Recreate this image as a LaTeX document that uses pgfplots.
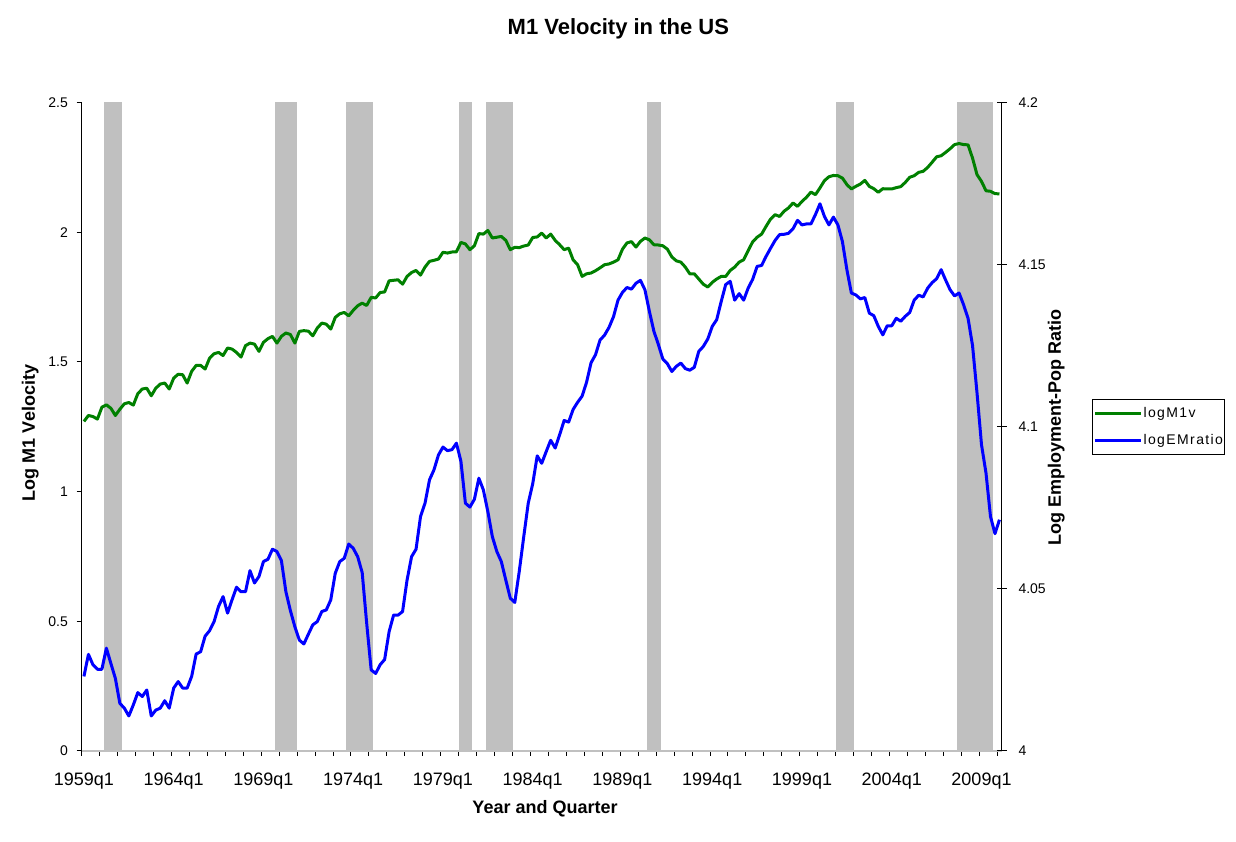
\documentclass[border=0pt]{standalone}
\usepackage{pgfplots}
\pgfplotsset{compat=1.18}
\usepackage{fontspec}
\setmainfont{Liberation Sans}
\newfontfamily\legfont[LetterSpace=10]{Liberation Sans}
\definecolor{recgray}{HTML}{C0C0C0}
\definecolor{mgreen}{HTML}{008000}
\definecolor{mblue}{HTML}{0000FF}
\begin{document}
\begin{tikzpicture}
\path[use as bounding box] (0,0) rectangle (1236pt,842pt);
\begin{axis}[
  at={(81.7pt,91pt)}, anchor=south west,
  width=920pt, height=648.7pt, scale only axis,
  xmin=-0.5, xmax=204.5, ymin=0, ymax=2.5,
  axis x line*=bottom, axis y line*=left,
  y axis line style={line width=1pt, black},
  x axis line style={line width=2.5pt, recgray},
  tick align=outside, major tick length=5pt, minor tick length=5pt,
  every tick/.style={black, line width=1pt},
  every major x tick/.append style={draw=none},
  ytick={0,0.5,1,1.5,2,2.5}, yticklabels={0,0.5,1,1.5,2,2.5},
  xtick={0,20,40,60,80,100,120,140,160,180,200},
  xticklabels={1959q1,1964q1,1969q1,1974q1,1979q1,1984q1,1989q1,1994q1,1999q1,2004q1,2009q1},
  minor xtick={-0.5,3.5,...,203.5},
  /pgf/number format/assume math mode=true,
  yticklabel style={font=\fontsize{14}{14}\selectfont, inner sep=0pt, text height=10pt, text depth=0pt, anchor=east, xshift=-8.7pt},
  xticklabel style={font=\fontsize{18}{18}\selectfont, inner sep=0pt, text height=13pt, text depth=0pt, anchor=north, yshift=-16.3pt},
  title={M1 Velocity in the US},
  title style={font=\fontsize{22}{22}\selectfont\bfseries, at={(axis description cs:0.5833,1.1079)}, anchor=center, inner sep=0pt, text height=15.8pt, text depth=0pt},
  ylabel={Log M1 Velocity},
  ylabel style={font=\fontsize{18}{18}\selectfont\bfseries, at={(axis description cs:-0.0578,0.4902)}, anchor=center, inner sep=0pt, text height=12.9pt, text depth=0pt},
  xlabel={Year and Quarter},
  xlabel style={font=\fontsize{18}{18}\selectfont\bfseries, at={(axis description cs:0.5036,-0.0863)}, anchor=center, inner sep=0pt, text height=12.9pt, text depth=0pt},
]
\addplot[fill=recgray, draw=none, forget plot] coordinates {(4.5,2.5) (8.5,2.5)} \closedcycle;
\addplot[fill=recgray, draw=none, forget plot] coordinates {(42.5,2.5) (47.5,2.5)} \closedcycle;
\addplot[fill=recgray, draw=none, forget plot] coordinates {(58.5,2.5) (64.5,2.5)} \closedcycle;
\addplot[fill=recgray, draw=none, forget plot] coordinates {(83.5,2.5) (86.5,2.5)} \closedcycle;
\addplot[fill=recgray, draw=none, forget plot] coordinates {(89.5,2.5) (95.5,2.5)} \closedcycle;
\addplot[fill=recgray, draw=none, forget plot] coordinates {(125.5,2.5) (128.5,2.5)} \closedcycle;
\addplot[fill=recgray, draw=none, forget plot] coordinates {(167.5,2.5) (171.5,2.5)} \closedcycle;
\addplot[fill=recgray, draw=none, forget plot] coordinates {(194.5,2.5) (202.5,2.5)} \closedcycle;
\addplot[mgreen, line width=3pt, line join=round] coordinates {
(0,1.270)(1,1.293)(2,1.289)(3,1.279)(4,1.325)(5,1.334)(6,1.321)(7,1.293)(8,1.317)(9,1.338)
(10,1.343)(11,1.333)(12,1.377)(13,1.395)(14,1.398)(15,1.369)(16,1.398)(17,1.414)(18,1.418)(19,1.395)
(20,1.437)(21,1.452)(22,1.450)(23,1.418)(24,1.463)(25,1.486)(26,1.486)(27,1.472)(28,1.514)(29,1.531)
(30,1.536)(31,1.524)(32,1.553)(33,1.549)(34,1.536)(35,1.518)(36,1.562)(37,1.572)(38,1.568)(39,1.540)
(40,1.575)(41,1.589)(42,1.598)(43,1.572)(44,1.598)(45,1.611)(46,1.605)(47,1.572)(48,1.617)(49,1.620)
(50,1.618)(51,1.600)(52,1.630)(53,1.649)(54,1.645)(55,1.626)(56,1.671)(57,1.685)(58,1.690)(59,1.677)
(60,1.698)(61,1.716)(62,1.726)(63,1.717)(64,1.748)(65,1.746)(66,1.767)(67,1.769)(68,1.812)(69,1.814)
(70,1.816)(71,1.799)(72,1.829)(73,1.844)(74,1.852)(75,1.834)(76,1.865)(77,1.887)(78,1.891)(79,1.896)
(80,1.922)(81,1.919)(82,1.923)(83,1.924)(84,1.960)(85,1.954)(86,1.932)(87,1.947)(88,1.994)(89,1.992)
(90,2.006)(91,1.977)(92,1.980)(93,1.983)(94,1.968)(95,1.932)(96,1.941)(97,1.940)(98,1.946)(99,1.950)
(100,1.979)(101,1.981)(102,1.996)(103,1.977)(104,1.992)(105,1.968)(106,1.951)(107,1.932)(108,1.938)(109,1.893)
(110,1.874)(111,1.829)(112,1.839)(113,1.842)(114,1.851)(115,1.862)(116,1.874)(117,1.877)(118,1.884)(119,1.893)
(120,1.934)(121,1.958)(122,1.963)(123,1.942)(124,1.964)(125,1.977)(126,1.970)(127,1.951)(128,1.950)(129,1.947)
(130,1.934)(131,1.904)(132,1.889)(133,1.884)(134,1.865)(135,1.839)(136,1.839)(137,1.819)(138,1.799)(139,1.788)
(140,1.806)(141,1.819)(142,1.829)(143,1.829)(144,1.852)(145,1.865)(146,1.884)(147,1.893)(148,1.928)(149,1.962)
(150,1.980)(151,1.992)(152,2.022)(153,2.050)(154,2.067)(155,2.060)(156,2.080)(157,2.093)(158,2.112)(159,2.099)
(160,2.118)(161,2.134)(162,2.154)(163,2.144)(164,2.170)(165,2.198)(166,2.213)(167,2.218)(168,2.217)(169,2.208)
(170,2.183)(171,2.166)(172,2.176)(173,2.185)(174,2.199)(175,2.176)(176,2.167)(177,2.153)(178,2.167)(179,2.166)
(180,2.166)(181,2.171)(182,2.175)(183,2.191)(184,2.211)(185,2.217)(186,2.230)(187,2.234)(188,2.249)(189,2.269)
(190,2.290)(191,2.294)(192,2.307)(193,2.321)(194,2.337)(195,2.341)(196,2.337)(197,2.336)(198,2.285)(199,2.221)
(200,2.195)(201,2.159)(202,2.157)(203,2.148)(204,2.147)
};
\end{axis}
\begin{axis}[
  at={(81.7pt,91pt)}, anchor=south west,
  width=920pt, height=648.7pt, scale only axis,
  xmin=-0.5, xmax=204.5, ymin=4, ymax=4.2,
  axis x line=none, axis y line*=right,
  y axis line style={line width=1pt, black},
  tick align=center, major tick length=10pt,
  every tick/.style={black, line width=1pt},
  ytick={4,4.05,4.1,4.15,4.2}, yticklabels={4,4.05,4.1,4.15,4.2},
  /pgf/number format/assume math mode=true,
  yticklabel style={font=\fontsize{14}{14}\selectfont, inner sep=0pt, text height=10pt, text depth=0pt, anchor=west, xshift=11.6pt},
  ylabel={Log Employment-Pop Ratio},
  ylabel style={font=\fontsize{18}{18}\selectfont\bfseries, at={(axis description cs:1.0574,0.4987)}, anchor=center, inner sep=0pt, text height=12.9pt, text depth=0pt, rotate=0},
  legend style={at={(axis description cs:1.09848,0.54263)}, anchor=north west, draw=black, line width=1pt, fill=white,
    inner xsep=1pt, inner ysep=8.35pt, font=\legfont\fontsize{14}{14}\selectfont,
    nodes={inner sep=0pt}, row sep=15.2pt, /tikz/every odd column/.append style={column sep=0.7pt}},
  legend cell align=left,
  legend image code/.code={\path (0pt,0pt) -- (46pt,0pt); \draw[#1, line width=3pt] (8.4pt,0pt) -- (46pt,0pt);},
]
\addlegendimage{mgreen, line width=3pt}
\addlegendentry{logM1v}
\addplot[mblue, line width=3pt, line join=round] coordinates {
(0,4.0230)(1,4.0298)(2,4.0266)(3,4.0252)(4,4.0252)(5,4.0317)(6,4.0270)(7,4.0224)(8,4.0147)(9,4.0132)
(10,4.0108)(11,4.0142)(12,4.0180)(13,4.0168)(14,4.0188)(15,4.0108)(16,4.0126)(17,4.0132)(18,4.0155)(19,4.0132)
(20,4.0194)(21,4.0214)(22,4.0194)(23,4.0194)(24,4.0230)(25,4.0299)(26,4.0306)(27,4.0354)(28,4.0371)(29,4.0399)
(30,4.0446)(31,4.0476)(32,4.0425)(33,4.0466)(34,4.0505)(35,4.0491)(36,4.0491)(37,4.0556)(38,4.0518)(39,4.0538)
(40,4.0584)(41,4.0591)(42,4.0622)(43,4.0615)(44,4.0587)(45,4.0491)(46,4.0433)(47,4.0383)(48,4.0342)(49,4.0330)
(50,4.0360)(51,4.0389)(52,4.0399)(53,4.0430)(54,4.0435)(55,4.0466)(56,4.0548)(57,4.0584)(58,4.0594)(59,4.0638)
(60,4.0625)(61,4.0599)(62,4.0550)(63,4.0394)(64,4.0250)(65,4.0239)(66,4.0266)(67,4.0282)(68,4.0368)(69,4.0419)
(70,4.0419)(71,4.0430)(72,4.0527)(73,4.0599)(74,4.0622)(75,4.0723)(76,4.0764)(77,4.0836)(78,4.0867)(79,4.0913)
(80,4.0937)(81,4.0926)(82,4.0929)(83,4.0949)(84,4.0893)(85,4.0764)(86,4.0752)(87,4.0776)(88,4.0841)(89,4.0805)
(90,4.0738)(91,4.0661)(92,4.0615)(93,4.0584)(94,4.0527)(95,4.0471)(96,4.0458)(97,4.0554)(98,4.0661)(99,4.0764)
(100,4.0824)(101,4.0910)(102,4.0887)(103,4.0923)(104,4.0958)(105,4.0934)(106,4.0975)(107,4.1019)(108,4.1014)(109,4.1053)
(110,4.1075)(111,4.1094)(112,4.1137)(113,4.1197)(114,4.1222)(115,4.1267)(116,4.1282)(117,4.1306)(118,4.1339)(119,4.1390)
(120,4.1414)(121,4.1429)(122,4.1424)(123,4.1442)(124,4.1451)(125,4.1422)(126,4.1355)(127,4.1294)(128,4.1253)(129,4.1208)
(130,4.1194)(131,4.1170)(132,4.1186)(133,4.1196)(134,4.1179)(135,4.1174)(136,4.1183)(137,4.1232)(138,4.1247)(139,4.1270)
(140,4.1309)(141,4.1330)(142,4.1386)(143,4.1438)(144,4.1448)(145,4.1390)(146,4.1410)(147,4.1390)(148,4.1427)(149,4.1454)
(150,4.1494)(151,4.1497)(152,4.1525)(153,4.1550)(154,4.1574)(155,4.1592)(156,4.1593)(157,4.1596)(158,4.1610)(159,4.1636)
(160,4.1622)(161,4.1625)(162,4.1625)(163,4.1654)(164,4.1687)(165,4.1648)(166,4.1622)(167,4.1646)(168,4.1622)(169,4.1571)
(170,4.1484)(171,4.1412)(172,4.1406)(173,4.1394)(174,4.1398)(175,4.1350)(176,4.1342)(177,4.1309)(178,4.1283)(179,4.1311)
(180,4.1311)(181,4.1334)(182,4.1325)(183,4.1340)(184,4.1352)(185,4.1390)(186,4.1405)(187,4.1400)(188,4.1427)(189,4.1444)
(190,4.1456)(191,4.1484)(192,4.1452)(193,4.1422)(194,4.1403)(195,4.1412)(196,4.1376)(197,4.1334)(198,4.1250)(199,4.1104)
(200,4.0944)(201,4.0857)(202,4.0723)(203,4.0670)(204,4.0713)
};
\addlegendentry{logEMratio}
\end{axis}
\end{tikzpicture}
\end{document}
